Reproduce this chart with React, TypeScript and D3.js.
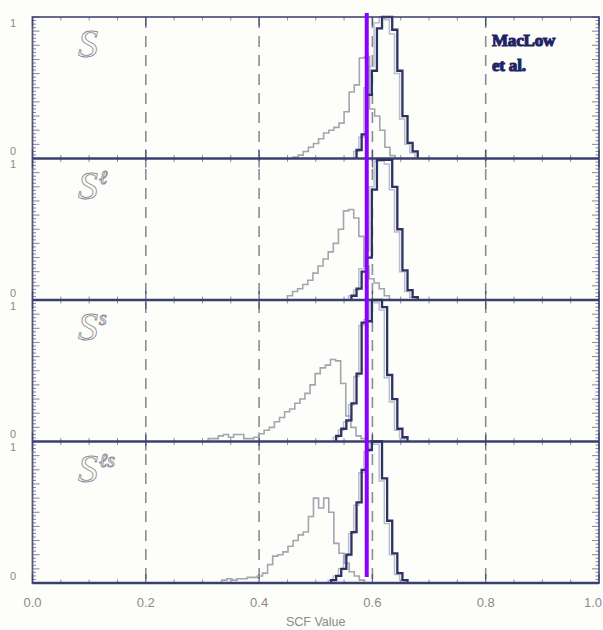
import React from "react";
import * as d3 from "d3";

// ---- data ----
const BIN = 0.009;
const MARKER_VALUE = 0.59;
const X_TICKS = [0, 0.2, 0.4, 0.6, 0.8, 1.0];
const X_TICK_LABELS = ["0.0", "0.2", "0.4", "0.6", "0.8", "1.0"];
const DASHED_AT = [0.2, 0.4, 0.6, 0.8];
const PANEL_SUPERSCRIPTS = ["", "ℓ", "s", "ℓs"];
const X_LABEL = "SCF Value";
const CREDIT_LINES = ["MacLow", "et al."];

// light (observed-like) histograms: start value and heights per bin
const LIGHT_START = [0.46, 0.45, 0.31, 0.334];
const LIGHT_1 = [0.01, 0.024, 0.05, 0.08, 0.106, 0.14, 0.18, 0.2, 0.22, 0.25, 0.33, 0.47, 0.52, 0.71, 0.72, 0.35, 0.3, 0.2, 0.08, 0.02];
const LIGHT_2 = [0.03, 0.06, 0.08, 0.11, 0.14, 0.19, 0.24, 0.29, 0.34, 0.4, 0.5, 0.63, 0.64, 0.58, 0.45, 0.24, 0.15, 0.12, 0.08, 0.03];
const LIGHT_3 = [0.02, 0.02, 0.04, 0.05, 0.03, 0.05, 0.05, 0.02, 0.02, 0.03, 0.055, 0.08, 0.1, 0.14, 0.17, 0.21, 0.23, 0.27, 0.3, 0.34, 0.4, 0.48, 0.52, 0.54, 0.58, 0.57, 0.41, 0.18, 0.1, 0.04, 0.02];
const LIGHT_4 = [0.02, 0.03, 0.02, 0.03, 0.03, 0.04, 0.04, 0.05, 0.07, 0.13, 0.19, 0.2, 0.22, 0.26, 0.3, 0.34, 0.36, 0.47, 0.6, 0.53, 0.6, 0.5, 0.28, 0.21, 0.14, 0.08, 0.05, 0.02];

// dark (model) histograms
const DARK_START = [0.572, 0.563, 0.536, 0.527];
const DARK_1 = [0.06, 0.17, 0.45, 0.62, 0.92, 1.0, 1.0, 0.91, 0.62, 0.3, 0.11, 0.05];
const DARK_2 = [0.03, 0.08, 0.2, 0.3, 0.78, 0.99, 0.99, 0.99, 0.8, 0.5, 0.21, 0.07, 0.02];
const DARK_3 = [0.04, 0.09, 0.15, 0.27, 0.48, 0.84, 0.85, 1.0, 1.0, 0.95, 0.47, 0.3, 0.09, 0.03];
const DARK_4 = [0.02, 0.05, 0.1, 0.2, 0.36, 0.57, 0.8, 0.94, 1.0, 1.0, 0.74, 0.44, 0.21, 0.07, 0.02];

// faint companion histograms drawn next to the dark ones
const GHOST_START = [0.567, 0.558, 0.531, 0.522];
const GHOST_1 = [0.05, 0.15, 0.5, 0.65, 0.96, 1.0, 0.98, 0.88, 0.6, 0.28, 0.1, 0.04];
const GHOST_2 = [0.03, 0.07, 0.22, 0.35, 0.8, 0.98, 0.98, 0.96, 0.78, 0.48, 0.2, 0.06, 0.02];
const GHOST_3 = [0.03, 0.08, 0.14, 0.26, 0.46, 0.82, 0.86, 0.99, 0.98, 0.93, 0.45, 0.28, 0.08, 0.02];
const GHOST_4 = [0.02, 0.05, 0.1, 0.19, 0.35, 0.55, 0.78, 0.93, 0.99, 0.98, 0.72, 0.42, 0.2, 0.06, 0.02];

const LIGHTS = [LIGHT_1, LIGHT_2, LIGHT_3, LIGHT_4];
const DARKS = [DARK_1, DARK_2, DARK_3, DARK_4];
const GHOSTS = [GHOST_1, GHOST_2, GHOST_3, GHOST_4];

// ---- layout ----
const W = 603;
const H = 630;
const LEFT = 32.5;
const RIGHT = 599;
const TOP = 17;
const BOTTOM = 583;
const NP = 4;
const PH = (BOTTOM - TOP) / NP;

const FRAME = "#3a3f6e";
const LIGHT_C = "#a4a5b0";
const GHOST_C = "#a3a7bc";
const DARK_C = "#2c3262";
const TEXT_C = "#8a8a8a";

function stepPoints(start: number, heights: number[]): [number, number][] {
  const pts: [number, number][] = [[start, 0]];
  heights.forEach((h, i) => {
    const x0 = start + i * BIN;
    pts.push([x0, h]);
    pts.push([x0 + BIN, h]);
  });
  pts.push([start + heights.length * BIN, 0]);
  return pts;
}

export default function App() {
  const x = d3.scaleLinear().domain([0, 1]).range([LEFT, RIGHT]);
  const panels = d3.range(NP).map((i) => {
    const top = TOP + i * PH;
    const bottom = top + PH;
    const y = d3.scaleLinear().domain([0, 1]).range([bottom, top]);
    return { i, top, bottom, y };
  });

  const yMinor = d3.range(0, 1.0001, 0.025);
  const xMinor = d3.range(0, 1.0001, 0.05);

  return (
    <svg
      width={W}
      height={H}
      style={{ position: "absolute", left: 0, top: 0, background: "#fdfdfa" }}
      fontFamily="'Liberation Sans', Arial, sans-serif"
    >
      <rect x={0} y={0} width={W} height={H} fill="#fdfdfa" />
      {/* dashed reference lines */}
      {DASHED_AT.map((v) => (
        <line
          key={"d" + v}
          x1={x(v)}
          x2={x(v)}
          y1={TOP}
          y2={BOTTOM}
          stroke="#8c8c94"
          strokeWidth={1.6}
          strokeDasharray="11 8"
        />
      ))}
      {panels.map(({ i, top, bottom, y }) => {
        const line = d3
          .line<[number, number]>()
          .x((d) => x(d[0]))
          .y((d) => y(d[1]));
        return (
          <g key={"p" + i}>
            {/* y ticks left and right */}
            {yMinor.map((t, k) => {
              const len = k % 4 === 0 ? 7 : 3.5;
              return (
                <g key={"yt" + k}>
                  <line x1={LEFT} x2={LEFT + len} y1={y(t)} y2={y(t)} stroke={FRAME} strokeWidth={0.9} opacity={0.7} />
                  <line x1={RIGHT} x2={RIGHT - len} y1={y(t)} y2={y(t)} stroke={FRAME} strokeWidth={0.9} opacity={0.7} />
                </g>
              );
            })}
            {/* x ticks on panel bottom and top */}
            {xMinor.map((t, k) => {
              const major = k % 4 === 0;
              const len = major ? 9 : 3.5;
              return (
                <g key={"xt" + k}>
                  <line x1={x(t)} x2={x(t)} y1={bottom} y2={bottom - len} stroke={FRAME} strokeWidth={major ? 1.3 : 0.8} opacity={0.75} />
                  <line x1={x(t)} x2={x(t)} y1={top} y2={top + len} stroke={FRAME} strokeWidth={major ? 1.3 : 0.8} opacity={0.75} />
                </g>
              );
            })}
            <path d={line(stepPoints(LIGHT_START[i], LIGHTS[i])) || ""} fill="none" stroke={LIGHT_C} strokeWidth={1.6} />
            <path d={line(stepPoints(GHOST_START[i], GHOSTS[i])) || ""} fill="none" stroke={GHOST_C} strokeWidth={1.5} opacity={0.75} />
            <path d={line(stepPoints(DARK_START[i], DARKS[i])) || ""} fill="none" stroke={DARK_C} strokeWidth={2.3} />
            {/* baseline */}
            <line x1={LEFT} x2={RIGHT} y1={bottom} y2={bottom} stroke={FRAME} strokeWidth={2.6} />
            {/* y labels */}
            <text x={13} y={top + 7} fontSize={11} fill={TEXT_C} textAnchor="middle" dominantBaseline="middle">1</text>
            <text x={13} y={bottom - 6} fontSize={11} fill={TEXT_C} textAnchor="middle" dominantBaseline="middle">0</text>
            {/* panel label */}
            <text
              x={78}
              y={top + 40}
              fontFamily="'Liberation Serif', 'DejaVu Serif', serif"
              fontStyle="italic"
              fontSize={40}
              fill="none"
              stroke="#8d8e98"
              strokeWidth={0.9}
            >
              S
              {PANEL_SUPERSCRIPTS[i] ? (
                <tspan fontSize={20} dy={-15} dx={1}>
                  {PANEL_SUPERSCRIPTS[i]}
                </tspan>
              ) : null}
            </text>
          </g>
        );
      })}
      {/* frame */}
      <rect x={LEFT} y={TOP} width={RIGHT - LEFT} height={BOTTOM - TOP} fill="none" stroke={FRAME} strokeWidth={1.8} opacity={0.85} />
      {/* marker line */}
      <line x1={x(MARKER_VALUE)} x2={x(MARKER_VALUE)} y1={13} y2={577} stroke="#8a00ff" strokeWidth={4} />
      {/* credit */}
      {CREDIT_LINES.map((s, k) => (
        <text
          key={"c" + k}
          x={492}
          y={46 + k * 25}
          fontFamily="'Liberation Serif', 'DejaVu Serif', serif"
          fontWeight="bold"
          fontSize={17}
          fill="#1e2466"
          stroke="#1e2466"
          strokeWidth={1.1}
          letterSpacing={-0.2}
        >
          {s}
        </text>
      ))}
      {/* x tick labels */}
      {X_TICKS.map((v, k) => (
        <text
          key={"xl" + k}
          x={k === X_TICKS.length - 1 ? W - 1 : x(v)}
          y={607}
          fontSize={13}
          fill={TEXT_C}
          textAnchor={k === X_TICKS.length - 1 ? "end" : "middle"}
        >
          {X_TICK_LABELS[k]}
        </text>
      ))}
      <text x={(LEFT + RIGHT) / 2} y={626} fontSize={12.5} fill={TEXT_C} textAnchor="middle">
        {X_LABEL}
      </text>
    </svg>
  );
}
